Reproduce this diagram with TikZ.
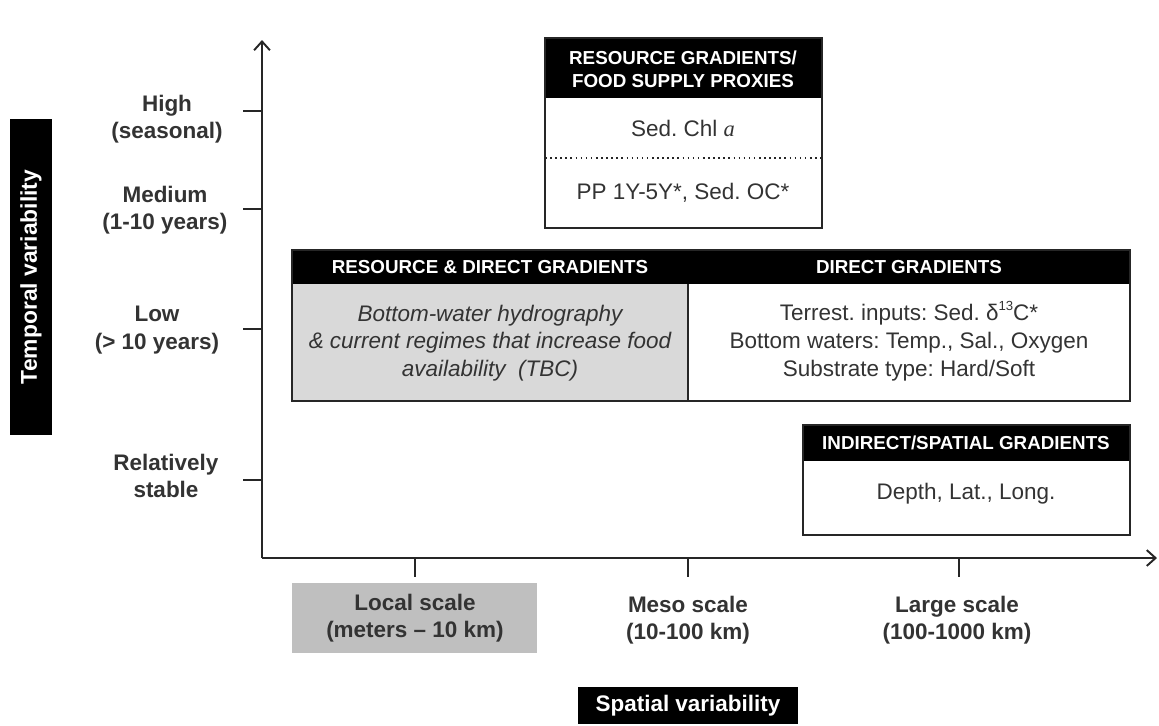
\documentclass[tikz,border=0pt]{standalone}
\usepackage{fontspec}
\setmainfont{Liberation Sans}
\newfontfamily\timesfont{Liberation Serif}
\usetikzlibrary{arrows.meta}
\frenchspacing

\begin{document}
\begin{tikzpicture}[x=0.02cm, y=-0.02cm,
    >={Straight Barb[length=5pt,width=9pt]},
    lbl/.style={align=center, text=black!80, font=\fontsize{12.8}{15.5}\selectfont\bfseries},
    hdr/.style={align=center, text=white, font=\fontsize{10.7}{13}\selectfont\bfseries},
    txt/.style={align=center, text=black!80, font=\fontsize{12.8}{15.8}\selectfont},
    boxline/.style={draw=black!85, line width=1.1pt}]

    \useasboundingbox (0,0) rectangle (1159,725);

    % Axes
    \coordinate (Origin) at (262,558);
    \coordinate (YTop) at (262,40);
    \coordinate (XEnd) at (1157,558);
    \draw[->, line width=1.1pt, black!85] (Origin) -- (YTop);
    \draw[->, line width=1.1pt, black!85] (Origin) -- (XEnd);

    % Ticks
    \foreach \y in {111,209,329,480}
        \draw[line width=1.1pt, black!85] (243,\y) -- (262,\y);
    \foreach \x in {415,688,959}
        \draw[line width=1.1pt, black!85] (\x,558) -- (\x,577);

    % Temporal scale labels
    \node[lbl] (high) at (167,119) {High\\(seasonal)};
    \node[lbl] (medium) at (165,210) {Medium\\(1-10 years)};
    \node[lbl] (low) at (157,330) {Low\\(> 10 years)};
    \node[lbl] (stable) at (166,476) {Relatively\\stable};

    % Spatial scale labels
    \fill[black!25] (292,583) rectangle (537,653);
    \node[lbl] (local) at (415,618) {Local scale\\(meters -- 10 km)};
    \node[lbl] (meso) at (688,620) {Meso scale\\(10-100 km)};
    \node[lbl] (large) at (957,620) {Large scale\\(100-1000 km)};

    % Axis titles
    \fill[black] (10,119) rectangle (52,435);
    \node[lbl, text=white, rotate=90, font=\fontsize{13}{15}\selectfont\bfseries] (temporal) at (31,277) {Temporal variability};
    \fill[black] (578,687) rectangle (798,724);
    \node[lbl, text=white] (spatial) at (688,706) {Spatial variability};

    % Resource gradients box
    \fill[black] (545,38) rectangle (822,98);
    \draw[boxline] (545,38) rectangle (822,228);
    \draw[dotted, line width=0.9pt, black!85] (545,158) -- (822,158);
    \node[hdr] (resource) at (683,69) {RESOURCE GRADIENTS/\\FOOD SUPPLY PROXIES};
    \node[txt] (chl) at (683,128) {Sed. Chl {\timesfont\itshape a}};
    \node[txt] (pp) at (683,193) {PP 1Y-5Y*, Sed. OC*};

    % Resource & direct / direct gradients box
    \fill[black] (292,250) rectangle (1130,284);
    \fill[black!15] (292,284) rectangle (688,401);
    \draw[boxline] (292,250) rectangle (1130,401);
    \draw[boxline] (688,284) -- (688,401);
    \node[hdr] (resdirect) at (490,267) {RESOURCE \& DIRECT GRADIENTS};
    \node[hdr] (direct) at (909,267) {DIRECT GRADIENTS};
    \node[txt, font=\fontsize{12.8}{15.8}\selectfont\itshape] (hydro) at (490,343)
        {Bottom-water hydrography\\\& current regimes that increase food\\availability~ (TBC)};
    \node[txt] (terrest) at (909,341)
        {Terrest. inputs: Sed. δ\raisebox{0.9ex}{\fontsize{7.5}{8}\selectfont 13}C*\\Bottom waters: Temp., Sal., Oxygen\\Substrate type: Hard/Soft};

    % Indirect gradients box
    \fill[black] (803,425) rectangle (1130,461);
    \draw[boxline] (803,425) rectangle (1130,535);
    \node[hdr] (indirect) at (966,443) {INDIRECT/SPATIAL GRADIENTS};
    \node[txt] (depth) at (966,494) {Depth, Lat., Long.};
\end{tikzpicture}
\end{document}
